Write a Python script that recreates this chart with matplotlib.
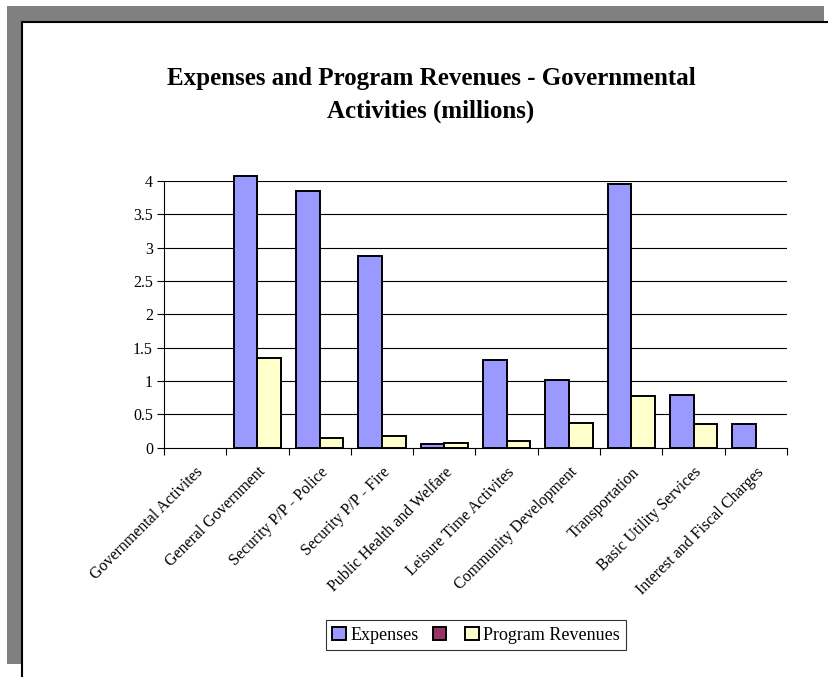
import matplotlib
matplotlib.use("Agg")
import matplotlib.pyplot as plt
from matplotlib.patches import Rectangle, Patch
from matplotlib.transforms import ScaledTranslation
import numpy as np

categories = ["Governmental Activites", "General Government", "Security P/P - Police",
              "Security P/P - Fire", "Public Health and Welfare", "Leisure Time Activites",
              "Community Development", "Transportation", "Basic Utility Services",
              "Interest and Fiscal Charges"]
expenses = [0, 4.07, 3.85, 2.88, 0.05, 1.31, 1.02, 3.955, 0.785, 0.36]
revenues = [0, 1.34, 0.15, 0.17, 0.065, 0.095, 0.375, 0.78, 0.355, 0]
yticks = [0, 0.5, 1, 1.5, 2, 2.5, 3, 3.5, 4]
ytick_labels = ["0", "0.5", "1", "1.5", "2", "2.5", "3", "3.5", "4"]
legend_labels = ["Expenses", "", "Program Revenues"]

C_EXP = "#9999FF"
C_S2 = "#993366"
C_REV = "#FFFFCC"
GRAY = "#808080"

plt.rcParams['font.family'] = ['Liberation Serif', 'DejaVu Serif']

W, H = 829, 677
fig = plt.figure(figsize=(W / 100, H / 100), dpi=100)
fig.patch.set_facecolor("white")

def fx(px):
    return px / W

def fy(py):
    return 1 - py / H

# shadow and panel
fig.patches.append(Rectangle((fx(7), fy(664)), fx(824) - fx(7), fy(6) - fy(664),
                             transform=fig.transFigure, facecolor=GRAY, edgecolor="none", zorder=0))
fig.patches.append(Rectangle((fx(22.5), fy(H + 5)), fx(W + 5) - fx(22.5), fy(22) - fy(H + 5),
                             transform=fig.transFigure, facecolor="white", edgecolor="black",
                             linewidth=1.5, zorder=1))

ax = fig.add_axes([fx(164), fy(447.5), fx(787) - fx(164), fy(181) - fy(447.5)])
ax.set_zorder(2)
ax.patch.set_alpha(0)

x = np.arange(len(categories))
exp_arr = np.array(expenses)
rev_arr = np.array(revenues)
bw = 0.38
m1 = exp_arr > 0
m2 = rev_arr > 0
ax.bar(x[m1] - bw / 2, exp_arr[m1], width=bw, color=C_EXP, edgecolor="black", linewidth=1.4,
       clip_on=False, zorder=3)
ax.bar(x[m2] + bw / 2, rev_arr[m2], width=bw, color=C_REV, edgecolor="black", linewidth=1.4,
       clip_on=False, zorder=3)

ax.set_xlim(-0.5, len(categories) - 0.5)
ax.set_ylim(0, 4)
ax.set_yticks(yticks)
ax.set_yticklabels(ytick_labels, fontsize=11.5)
for yv in yticks[1:]:
    ax.axhline(yv, color="black", linewidth=0.8, zorder=1)

ax.set_xticks(np.arange(len(categories) + 1) - 0.5, minor=False)
ax.set_xticklabels([])
ax.set_xticks(x, minor=True)
labels = ax.set_xticklabels(categories, minor=True, rotation=45, ha="right", va="top",
                            rotation_mode="anchor", fontsize=11.5)
off = ScaledTranslation(-3 / 100, 0, fig.dpi_scale_trans)
for lab in labels:
    lab.set_transform(lab.get_transform() + off)
ax.tick_params(axis="x", which="minor", length=0, pad=12)
ax.tick_params(axis="x", which="major", length=5, width=0.8, direction="out")
ax.tick_params(axis="y", length=5, width=0.8, direction="out", pad=3)

for s in ["top", "right"]:
    ax.spines[s].set_visible(False)
ax.spines["left"].set_linewidth(0.8)
ax.spines["bottom"].set_linewidth(0.8)
ax.spines["bottom"].set_zorder(4)

fig.text(fx(431), fy(95), "Expenses and Program Revenues - Governmental\nActivities (millions)",
         ha="center", va="center", multialignment="center", fontsize=18, fontweight="bold",
         linespacing=1.5, zorder=5)

handles = [Patch(facecolor=c, edgecolor="black", linewidth=1.4) for c in (C_EXP, C_S2, C_REV)]
leg = fig.legend(handles, legend_labels, loc="center", bbox_to_anchor=(fx(476), fy(635)),
                 ncol=3, fontsize=13, frameon=True, fancybox=False, edgecolor="black",
                 handlelength=0.75, handleheight=0.75, handletextpad=0.25, columnspacing=0.8,
                 borderpad=0.35, borderaxespad=0)
leg.get_frame().set_linewidth(0.8)
leg.set_zorder(5)

fig.savefig("out.png", dpi=100)
